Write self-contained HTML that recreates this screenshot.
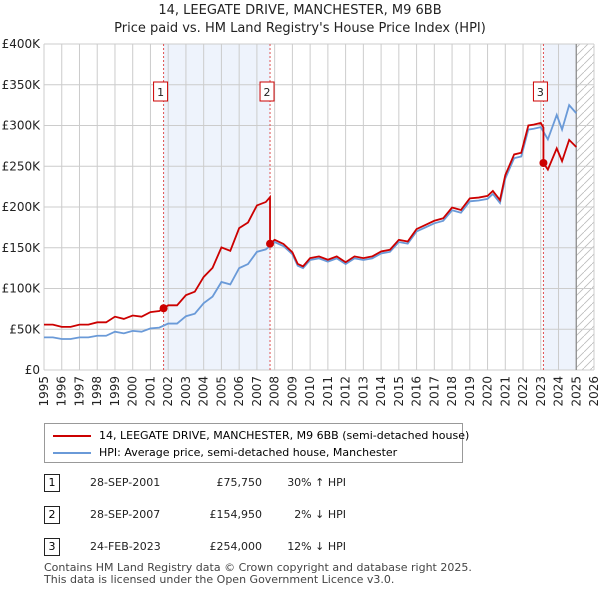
<!DOCTYPE html>
<html><head><meta charset="utf-8"><style>
body{margin:0;background:#fff;font-family:"DejaVu Sans","Liberation Sans",sans-serif;}
#wrap{position:relative;width:600px;height:590px;overflow:hidden}
.t{position:absolute;font-size:12px;color:#222;white-space:nowrap}
.box{position:absolute;border:1px solid #c00;font-size:11px;text-align:center;width:14px;height:16px;line-height:16px;background:#fff}
svg text{font-family:"DejaVu Sans","Liberation Sans",sans-serif}
</style></head><body><div id="wrap">
<div class="t" style="left:0;width:600px;text-align:center;top:3px;font-size:13px">14, LEEGATE DRIVE, MANCHESTER, M9 6BB</div>
<div class="t" style="left:0;width:600px;text-align:center;top:21px;font-size:13px">Price paid vs. HM Land Registry's House Price Index (HPI)</div>
<svg id="svg" width="600" height="420" style="position:absolute;left:0;top:0"></svg>

<div style="position:absolute;left:44px;top:423px;width:417px;height:38px;border:1px solid #999;font-size:11px">
 <div style="position:absolute;left:8px;top:5px;white-space:nowrap"><span style="display:inline-block;width:38px;height:2px;background:#c00;vertical-align:middle;margin-right:8px"></span>14, LEEGATE DRIVE, MANCHESTER, M9 6BB (semi-detached house)</div>
 <div style="position:absolute;left:8px;top:22px;white-space:nowrap"><span style="display:inline-block;width:38px;height:2px;background:#6a9ad8;vertical-align:middle;margin-right:8px"></span>HPI: Average price, semi-detached house, Manchester</div>
</div>
<div id="tbl"></div>
<div class="t" style="left:44px;top:561px;font-size:11px;color:#444">Contains HM Land Registry data © Crown copyright and database right 2025.</div>
<div class="t" style="left:44px;top:573px;font-size:11px;color:#444">This data is licensed under the Open Government Licence v3.0.</div>
</div>
<script>
const hpiT=[1995,1995.5,1996,1996.5,1997,1997.5,1998,1998.5,1999,1999.5,2000,2000.5,2001,2001.5,2002,2002.5,2003,2003.5,2004,2004.5,2005,2005.5,2006,2006.5,2007,2007.5,2008,2008.5,2009,2009.3,2009.6,2010,2010.5,2011,2011.5,2012,2012.5,2013,2013.5,2014,2014.5,2015,2015.5,2016,2016.5,2017,2017.5,2018,2018.5,2019,2019.5,2020,2020.3,2020.7,2021,2021.5,2021.9,2022.3,2022.6,2023,2023.4,2023.9,2024.2,2024.6,2025];
const hpiV=[40,40,38,38,40,40,42,42,47,45,48,47,51,52,57,57,66,69,82,90,108,105,125,130,145,148,157,152,142,128,125,135,137,133,137,130,137,135,137,143,145,157,155,170,175,180,183,196,193,207,208,210,216,205,235,260,262,295,296,298,283,313,295,325,315];
const saleT=[2001.74,2007.74,2023.15];
const saleV=[75.75,154.95,254];
const saleLabels=["1","2","3"];
const saleDates=["28-SEP-2001","28-SEP-2007","24-FEB-2023"];
const salePrices=["£75,750","£154,950","£254,000"];
const salePct=["30% ↑ HPI","2% ↓ HPI","12% ↓ HPI"];
const yTicks=[0,50,100,150,200,250,300,350,400];
const yTickLabels=["£0","£50K","£100K","£150K","£200K","£250K","£300K","£350K","£400K"];
const xYears=[1995,1996,1997,1998,1999,2000,2001,2002,2003,2004,2005,2006,2007,2008,2009,2010,2011,2012,2013,2014,2015,2016,2017,2018,2019,2020,2021,2022,2023,2024,2025,2026];

const X0=44,X1=594,Y0=370,Y1=44;
const x=t=>X0+(t-1995)/31*(X1-X0);
const y=v=>Y0-v/400*(Y0-Y1);
const NS="http://www.w3.org/2000/svg";
const svg=document.getElementById('svg');
function mk(tag,a,p){const e=document.createElementNS(NS,tag);for(const k in a)e.setAttribute(k,a[k]);(p||svg).appendChild(e);return e;}
function hpiAt(t){for(let i=0;i<hpiT.length-1;i++){if(t<=hpiT[i+1]){const f=(t-hpiT[i])/(hpiT[i+1]-hpiT[i]);return hpiV[i]+f*(hpiV[i+1]-hpiV[i]);}}return hpiV[hpiV.length-1];}
const defs=mk('defs',{});
const pat=mk('pattern',{id:'h',width:8,height:8,patternUnits:'userSpaceOnUse'},defs);
mk('path',{d:'M0,8 L8,0',stroke:'#bbb','stroke-width':0.8},pat);
let r=mk('rect',{x:x(saleT[0]),y:Y1,width:x(saleT[1])-x(saleT[0]),height:Y0-Y1,fill:'#eef3fc'});

r=mk('rect',{x:x(saleT[2]),y:Y1,width:x(2025)-x(saleT[2]),height:Y0-Y1,fill:'#eef3fc'});

r=mk('rect',{x:x(2025),y:Y1,width:X1-x(2025),height:Y0-Y1,fill:'url(#h)'});

yTicks.forEach((v,i)=>{const l=mk('line',{x1:X0,x2:X1,y1:y(v),y2:y(v),stroke:'#ccc'});

const tx=mk('text',{x:X0-4,y:y(v)+4,'text-anchor':'end','font-size':12,fill:'#222'});tx.textContent=yTickLabels[i];
});
xYears.forEach(yr=>{const l=mk('line',{x1:x(yr),x2:x(yr),y1:Y1,y2:Y0,stroke:'#ccc'});

const tx=mk('text',{x:0,y:0,'text-anchor':'end','font-size':12,fill:'#222',transform:`translate(${x(yr)+4},${Y0+6}) rotate(-90)`});tx.textContent=yr;
});
let vl=mk('line',{x1:x(2025),x2:x(2025),y1:Y1,y2:Y0,stroke:'#888','stroke-width':1.2});

saleT.forEach((t,i)=>{const l=mk('line',{x1:x(t),x2:x(t),y1:Y1,y2:Y0,stroke:'#e05050','stroke-dasharray':'2,2','stroke-width':1});
});
let hp=mk('polyline',{points:hpiT.map((t,i)=>x(t)+','+y(hpiV[i])).join(' '),fill:'none',stroke:'#6a9ad8','stroke-width':1.8});

const pts=[];
function redAt(t,k){return saleV[k]*hpiAt(t)/hpiAt(saleT[k]);}
let k=0;
hpiT.forEach((t,i)=>{while(k<saleT.length-1&&t>saleT[k+1]){pts.push([saleT[k+1],redAt(saleT[k+1],k)]);k++;pts.push([saleT[k],saleV[k]]);}
if(k===0&&t>saleT[0]&&!pts.some(p=>p[0]===saleT[0]))pts.push([saleT[0],saleV[0]]);
pts.push([t,redAt(t,k)]);});
let pl=mk('polyline',{points:pts.map(p=>x(p[0])+','+y(p[1])).join(' '),fill:'none',stroke:'#cc0000','stroke-width':1.8});

saleT.forEach((t,i)=>{const c=mk('circle',{cx:x(t),cy:y(saleV[i]),r:4,fill:'#cc0000'});

const b=mk('rect',{x:x(t)-10,y:82,width:14,height:19,fill:'#fff',stroke:'#c00'});

const tx=mk('text',{x:x(t)-3,y:96,'text-anchor':'middle','font-size':11,fill:'#222'});tx.textContent=saleLabels[i];
});
const tbl=document.getElementById('tbl');
saleT.forEach((t,i)=>{const top=474+i*32;
const row=document.createElement('div');row.style.cssText=`position:absolute;left:0;top:${top}px;width:600px;height:18px;font-size:11px`;

row.innerHTML=`<div class="box" style="left:44px;top:0;border-color:#222">${saleLabels[i]}</div><div class="t" style="left:90px;top:2px;font-size:11px">${saleDates[i]}</div><div class="t" style="left:180px;width:82px;text-align:right;top:2px;font-size:11px">${salePrices[i]}</div><div class="t" style="left:280px;width:66px;text-align:right;top:2px;font-size:11px">${salePct[i]}</div>`;
tbl.appendChild(row);});
</script></body></html>
